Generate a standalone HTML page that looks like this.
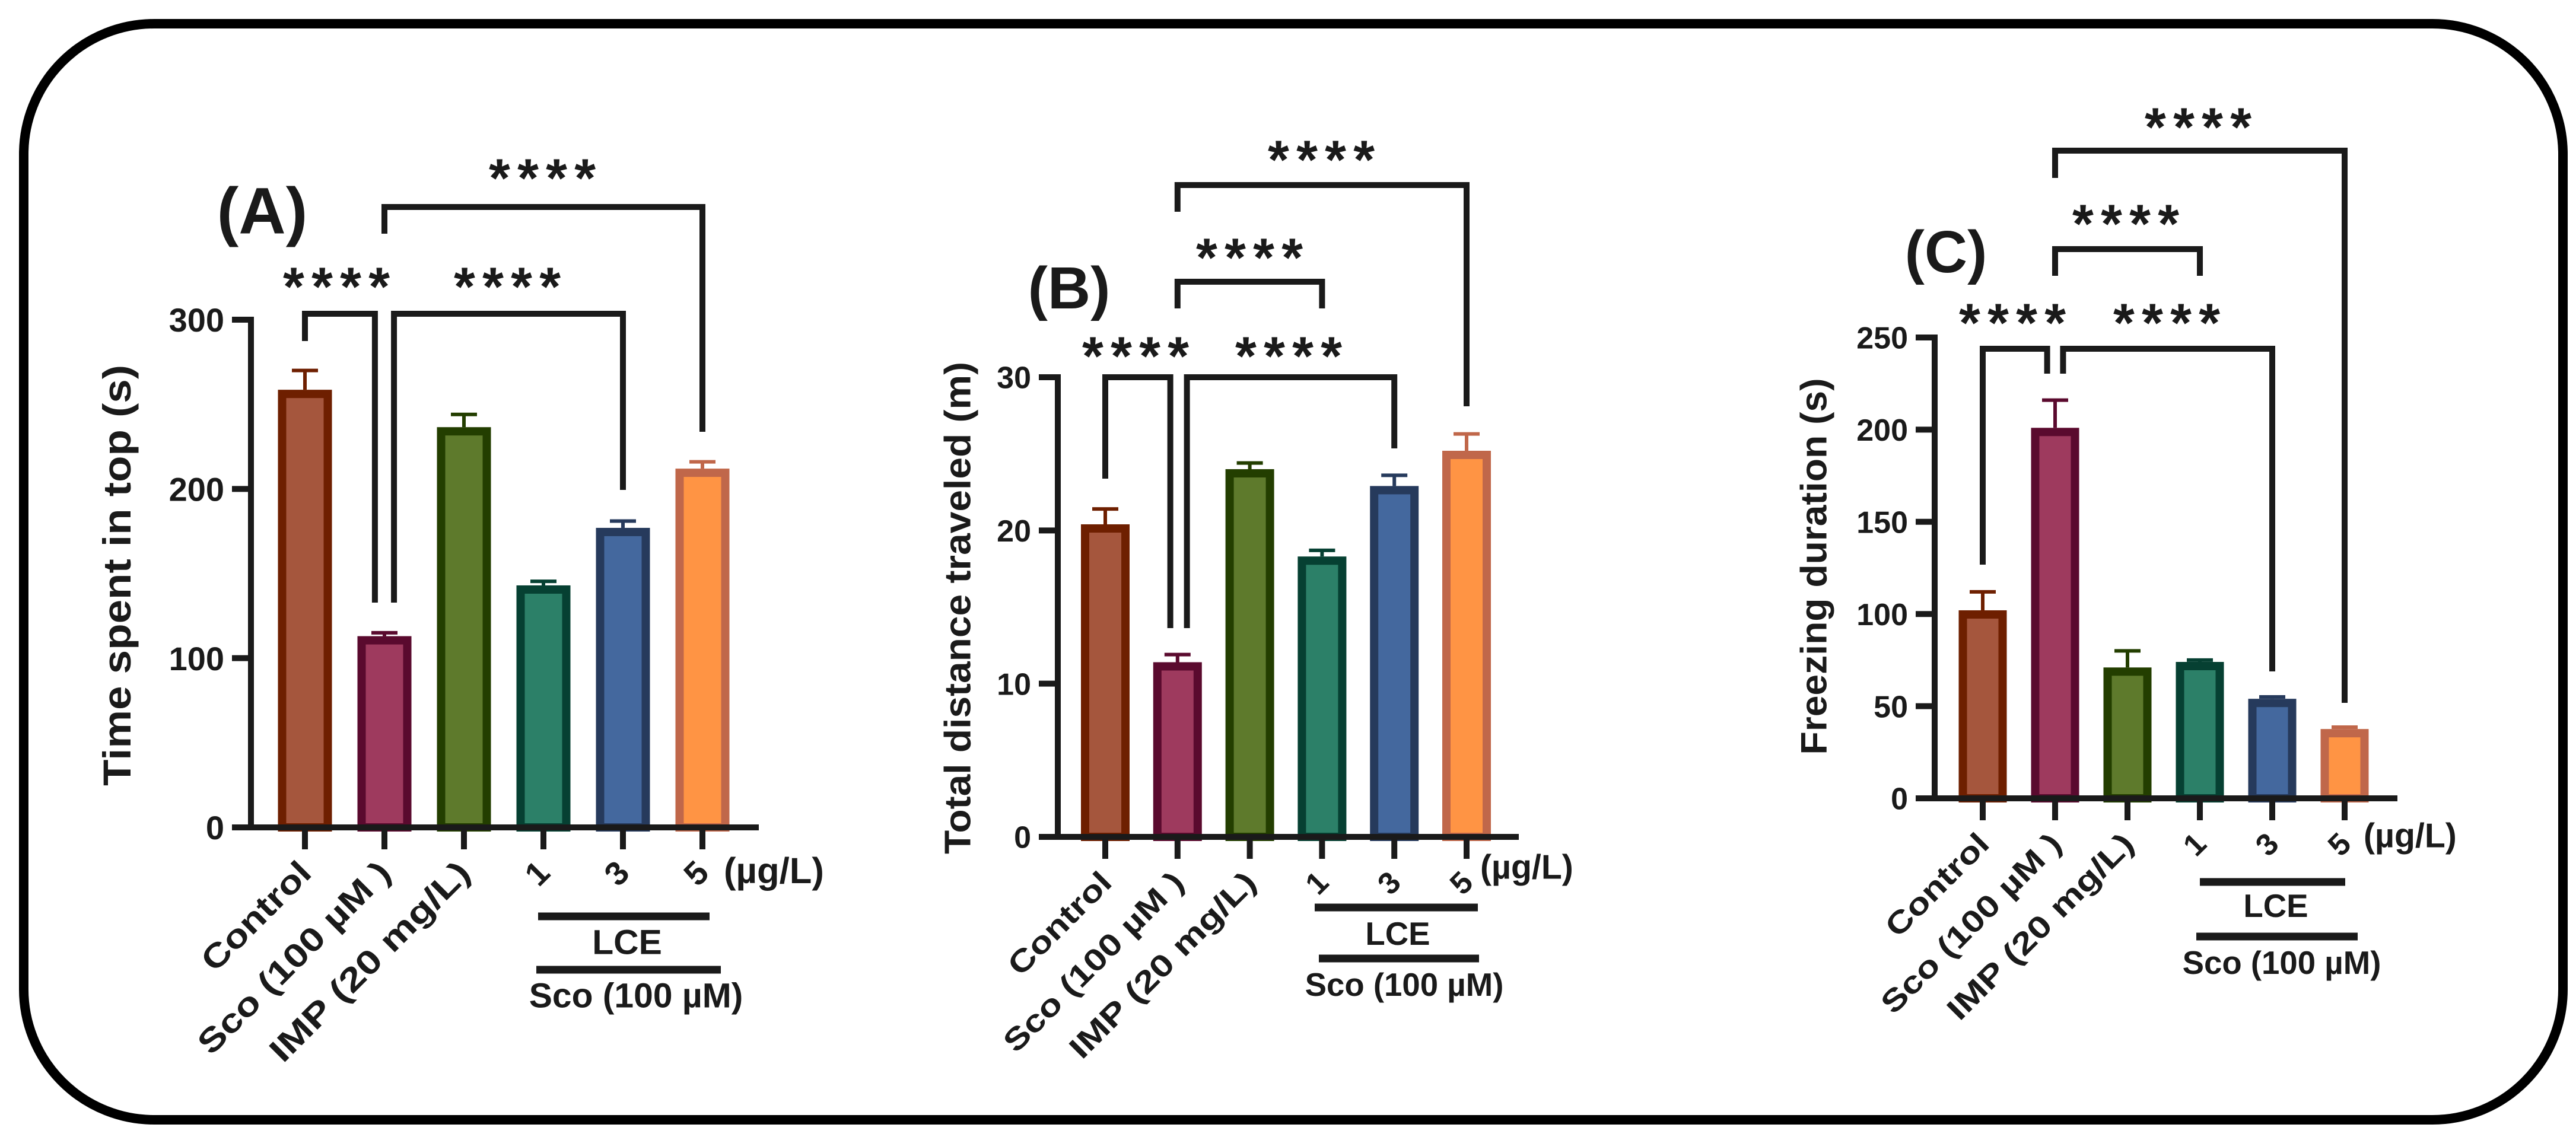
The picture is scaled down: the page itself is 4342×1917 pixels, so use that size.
<!DOCTYPE html>
<html><head><meta charset="utf-8"><style>
html,body{margin:0;padding:0;background:#fff;}
svg{display:block;}
text{font-family:"Liberation Sans",Arial,sans-serif;font-weight:bold;fill:#1a1a1a;}
</style></head><body>
<svg id="fig" width="4342" height="1917" viewBox="0 0 4342 1917" xmlns="http://www.w3.org/2000/svg">
<rect x="0" y="0" width="4342" height="1917" fill="#fff"/>
<rect x="40" y="40" width="4280" height="1848" rx="220" ry="220" fill="none" stroke="#000" stroke-width="16"/>
</svg>
<script>
// ---- data ----
const categories = ["Control","Sco (100 µM )","IMP (20 mg/L)","1","3","5"];
const valuesA = [258.6,113,236.5,143,177,212];
const errorsA = [11.4,2,7.5,2.4,4,4];
const valuesB = [20.4,11.4,24.0,18.3,22.9,25.2];
const errorsB = [1.0,0.5,0.4,0.4,0.7,1.1];
const valuesC = [102,201,71,74,54,37.6];
const errorsC = [10,15,9,1,1,1];
const ticksA = [0,100,200,300];
const ticksB = [0,10,20,30];
const ticksC = [0,50,100,150,200,250];
const fills = ["#A5563D","#9E3A5E","#5E7A2C","#2C8068","#44689E","#FF9444"];
const strokes = ["#6E1F00","#5A0A2E","#233E00","#064032","#263A5C","#C0674A"];

const NS="http://www.w3.org/2000/svg";
const svg=document.getElementById('fig');
function el(tag,attrs,parent,txt){const e=document.createElementNS(NS,tag);for(const k in attrs)e.setAttribute(k,attrs[k]);if(txt!==undefined)e.textContent=txt;(parent||svg).appendChild(e);return e;}

const panels=[
 {id:'a',label:'(A)',labelX:442,labelY:354,labelSize:110,title:'Time spent in top (s)',titleX:196,titleY:970,titleSize:66,titleLen:710,
  axisX:423,y0:1395,yTop:539,max:300,ticks:ticksA,xEnd:1279,x0:514,step:134,bw:91,vals:valuesA,errs:errorsA,tickFont:56,
  brackets:[[0,575,0.88,1016,529],[1.12,1016,4,826,529],[1,394,5,728,349]],
  stars:[[567,471],[855,471],[914,288]],
  unitX:1220,unitY:1469,line1:[907,1196,1545],lce:[1057,1587],line2:[904,1215,1635],sco:[1072,1677],xl:[235,433,451],labFont:56},
 {id:'b',label:'(B)',labelX:1802,labelY:484,labelSize:100,title:'Total distance traveled (m)',titleX:1613,titleY:1025,titleSize:62,titleLen:830,
  axisX:1783,y0:1411,yTop:636,max:30,ticks:ticksB,xEnd:2560,x0:1863,step:121.8,bw:82,vals:valuesB,errs:errorsB,tickFont:52,
  brackets:[[0,807,0.9,1059,636],[1.13,1059,4,756,636],[1,520,3,520,475],[1,357,5,685,312]],
  stars:[[1914,588],[2172,588],[2106,422],[2227,257]],
  unitX:2495,unitY:1463,line1:[2216,2491,1530],lce:[2356,1573],line2:[2223,2493,1616],sco:[2367,1659],xl:[222,405,420],labFont:52},
 {id:'c',label:'(C)',labelX:3280,labelY:423,labelSize:100,title:'Freezing duration (s)',titleX:3056,titleY:955,titleSize:62,titleLen:635,
  axisX:3261,y0:1346,yTop:569,max:250,ticks:ticksC,xEnd:4041,x0:3342,step:122,bw:81,vals:valuesC,errs:errorsC,tickFont:52,
  brackets:[[0,952,0.89,630,588],[1.11,630,4,1132,588],[1,465,3,465,420],[1,300,5,1185,254]],
  stars:[[3392,532],[3652,532],[3583,365],[3705,202]],
  unitX:3984,unitY:1410,line1:[3708,3953,1487],lce:[3836,1526],line2:[3702,3974,1579],sco:[3846,1622],xl:[222,405,420],labFont:52}
];

panels.forEach(p=>{
 const g=el('g',{});
 
 
 const yS=v=>p.y0-(v/p.max)*(p.y0-p.yTop);
 const xS=i=>p.x0+i*p.step;
 const pl=el('text',{x:p.labelX,y:p.labelY+p.labelSize*0.36,'font-size':p.labelSize,'text-anchor':'middle'},g,p.label);
 
 
 const t=el('text',{x:0,y:0,'font-size':p.titleSize,'text-anchor':'middle',transform:`translate(${p.titleX+p.titleSize*0.36},${p.titleY}) rotate(-90)`,textLength:p.titleLen,lengthAdjust:'spacingAndGlyphs'},g,p.title);
 
 
 p.vals.forEach((v,i)=>{
  const cx=xS(i),top=yS(v),eTop=yS(v+p.errs[i]);
  const eb=el('line',{x1:cx,x2:cx,y1:top,y2:eTop,stroke:strokes[i],'stroke-width':6},g);
  
  
  el('line',{x1:cx-22,x2:cx+22,y1:eTop,y2:eTop,stroke:strokes[i],'stroke-width':6},g);
  const r=el('rect',{x:cx-p.bw/2+7,y:top+7,width:p.bw-14,height:Math.max(0,p.y0-top-7),fill:fills[i],stroke:strokes[i],'stroke-width':14},g);
  
  
 });
 const ya=el('line',{x1:p.axisX,x2:p.axisX,y1:p.yTop-5,y2:p.y0+5,stroke:'#1a1a1a','stroke-width':10},g);
 
 
 const xa=el('line',{x1:p.axisX-5,x2:p.xEnd,y1:p.y0,y2:p.y0,stroke:'#1a1a1a','stroke-width':10},g);
 
 
 p.ticks.forEach(tv=>{
  const y=yS(tv);
  el('line',{x1:p.axisX-32,x2:p.axisX,y1:y,y2:y,stroke:'#1a1a1a','stroke-width':10},g);
  const tl=el('text',{x:p.axisX-45,y:y+p.tickFont*0.36,'font-size':p.tickFont,'text-anchor':'end'},g,String(tv));
  
  
 });
 categories.forEach((c,i)=>{
  const cx=xS(i);
  el('line',{x1:cx,x2:cx,y1:p.y0,y2:p.y0+37,stroke:'#1a1a1a','stroke-width':10},g);
  const len=i<3?p.xl[i]:null;
  const attrs={x:0,y:0,'font-size':p.labFont,'text-anchor':'end',transform:`translate(${cx+14},${p.y0+80}) rotate(-45)`};
  if(len){attrs.textLength=len;attrs.lengthAdjust='spacingAndGlyphs';}
  const xl=el('text',attrs,g,c);
  
  
 });
 const u=el('text',{x:p.unitX,y:p.unitY+p.labFont*0.36,'font-size':p.labFont*1.1,'text-anchor':'start'},g,'(µg/L)');
 
 
 el('line',{x1:p.line1[0],x2:p.line1[1],y1:p.line1[2],y2:p.line1[2],stroke:'#1a1a1a','stroke-width':13},g);
 const lce=el('text',{x:p.lce[0],y:p.lce[1]+p.labFont*0.38,'font-size':p.labFont*1.05,'text-anchor':'middle'},g,'LCE');
 
 
 el('line',{x1:p.line2[0],x2:p.line2[1],y1:p.line2[2],y2:p.line2[2],stroke:'#1a1a1a','stroke-width':13},g);
 const sc=el('text',{x:p.sco[0],y:p.sco[1]+p.labFont*0.38,'font-size':p.labFont*1.05,'text-anchor':'middle'},g,'Sco (100 µM)');
 
 
 p.brackets.forEach((b,k)=>{
  const xl=xS(b[0]),xr=xS(b[2]);
  const br=el('polyline',{points:`${xl},${b[1]} ${xl},${b[4]} ${xr},${b[4]} ${xr},${b[3]}`,fill:'none',stroke:'#1a1a1a','stroke-width':10},g);
  
  
 });
 p.stars.forEach(s=>{
  const st=el('text',{x:s[0],y:s[1]+44,'font-size':92,'text-anchor':'middle',textLength:180,lengthAdjust:'spacing'},g,'****');
  
  
 });
});
</script>
</body></html>
